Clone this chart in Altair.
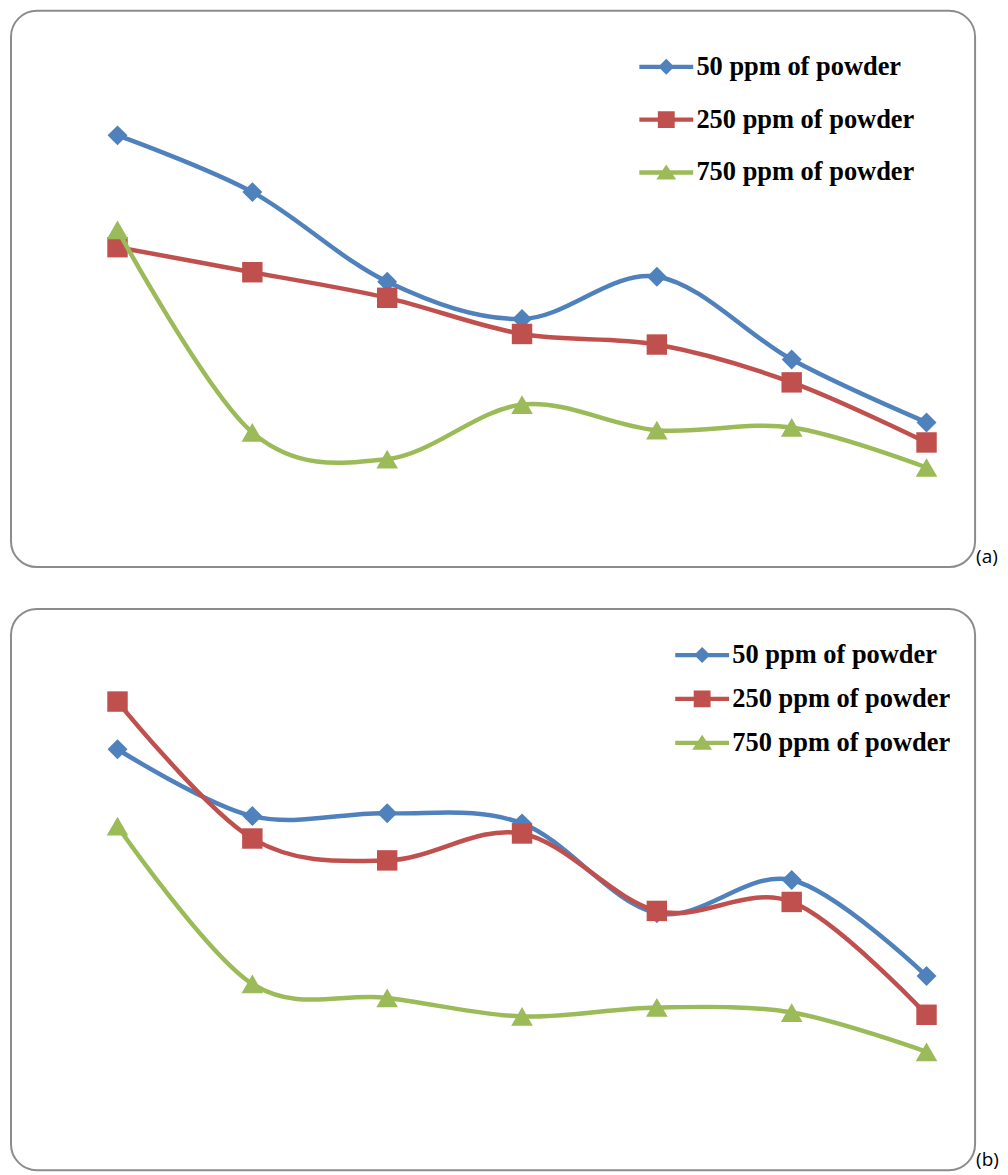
import altair as alt
import pandas as pd

series = ["50 ppm of powder", "250 ppm of powder", "750 ppm of powder"]
colors = ["#4F81BD", "#C0504D", "#9BBB59"]
shapes = ["diamond", "square", "triangle-up"]
sizes = [400, 420, 470]
steps = [1, 2, 3, 4, 5, 6, 7]

# panel (a)
a_50 = [77.6, 67.4, 51.3, 44.6, 52.2, 37.3, 26.0]
a_250 = [57.5, 53.0, 48.4, 41.9, 40.0, 33.2, 22.4]
a_750 = [60.6, 24.2, 19.4, 29.2, 24.6, 25.1, 17.9]
# panel (b)
b_50 = [75.0, 63.1, 63.6, 61.8, 45.8, 51.7, 34.6]
b_250 = [83.5, 59.1, 55.2, 60.0, 46.2, 47.8, 27.7]
b_750 = [61.3, 33.2, 30.7, 27.4, 29.0, 28.1, 21.1]

# legend symbols: line segment + marker (unit box, scaled by sqrt(size)/2)
line_part = "M-3,-0.24L3,-0.24L3,0.24L-3,0.24Z"
legend_paths = [
    line_part + "M0,-0.89L0.89,0L0,0.89L-0.89,0Z",
    line_part + "M-0.94,-0.94L0.94,-0.94L0.94,0.94L-0.94,0.94Z",
    line_part + "M0,-0.89L1.11,0.78L-1.11,0.78Z",
]
names_js = "[" + ",".join("'" + s + "'" for s in series) + "]"
paths_js = "[" + ",".join("'" + p + "'" for p in legend_paths) + "]"
shape_expr = paths_js + "[indexof(" + names_js + ", datum.value)]"

W = 967


def panel(vals, height, label, lx, ly, row_pad):
    rows = []
    for s, v in zip(series, vals):
        for x, y in zip(steps, v):
            rows.append({"step": x, "value": y, "series": s})
    df = pd.DataFrame(rows)
    base = alt.Chart(df)
    xenc = alt.X("step:Q", axis=None,
                 scale=alt.Scale(domain=[0.21, 7.36], nice=False, zero=False))
    yenc = alt.Y("value:Q", axis=None,
                 scale=alt.Scale(domain=[0, 100], nice=False, zero=False))
    cscale = alt.Scale(domain=series, range=colors)
    leg = alt.Legend(
        orient="none", legendX=lx, legendY=ly, title=None,
        symbolType={"expr": shape_expr}, symbolSize=324,
        symbolStrokeWidth=0, symbolOpacity=1,
        labelFont="Liberation Serif", labelFontWeight="bold",
        labelFontSize=26.5, labelColor="black", labelLimit=500,
        labelOffset=17, rowPadding=row_pad, padding=0,
    )
    layers = []
    for i, s in enumerate(series):
        sub = base.transform_filter(alt.datum.series == s)
        ln = sub.mark_line(strokeWidth=4.5, interpolate="cardinal").encode(
            x=xenc, y=yenc,
            color=alt.Color("series:N", scale=cscale, legend=leg),
        )
        pt = sub.mark_point(filled=True, opacity=1, shape=shapes[i],
                            size=sizes[i]).encode(
            x=xenc, y=yenc,
            color=alt.Color("series:N", scale=cscale, legend=leg),
        )
        layers += [ln, pt]
    return alt.layer(*layers).properties(
        width=W, height=height,
        title=alt.Title(label, orient="bottom", anchor="end", align="left",
                        baseline="alphabetic", dx=1, dy=-4, offset=0,
                        frame="group", font="Open Sans", fontSize=19,
                        fontWeight="normal", color="black"),
    )


pa = panel([a_50, a_250, a_750], 558, "(a)", 644, 43, 26)
pb = panel([b_50, b_250, b_750], 563, "(b)", 680, 33, 17)

chart = alt.vconcat(pa, pb, spacing=40).resolve_scale(
    color="independent"
).resolve_legend(color="independent").properties(
    padding={"left": 2, "top": 0, "right": 0, "bottom": 0},
    background="white",
).configure_view(
    stroke="#8c8c8c", strokeWidth=2, cornerRadius=26, fill="white"
)

chart.save("out.html", embed_options={"renderer": "svg", "actions": False})
